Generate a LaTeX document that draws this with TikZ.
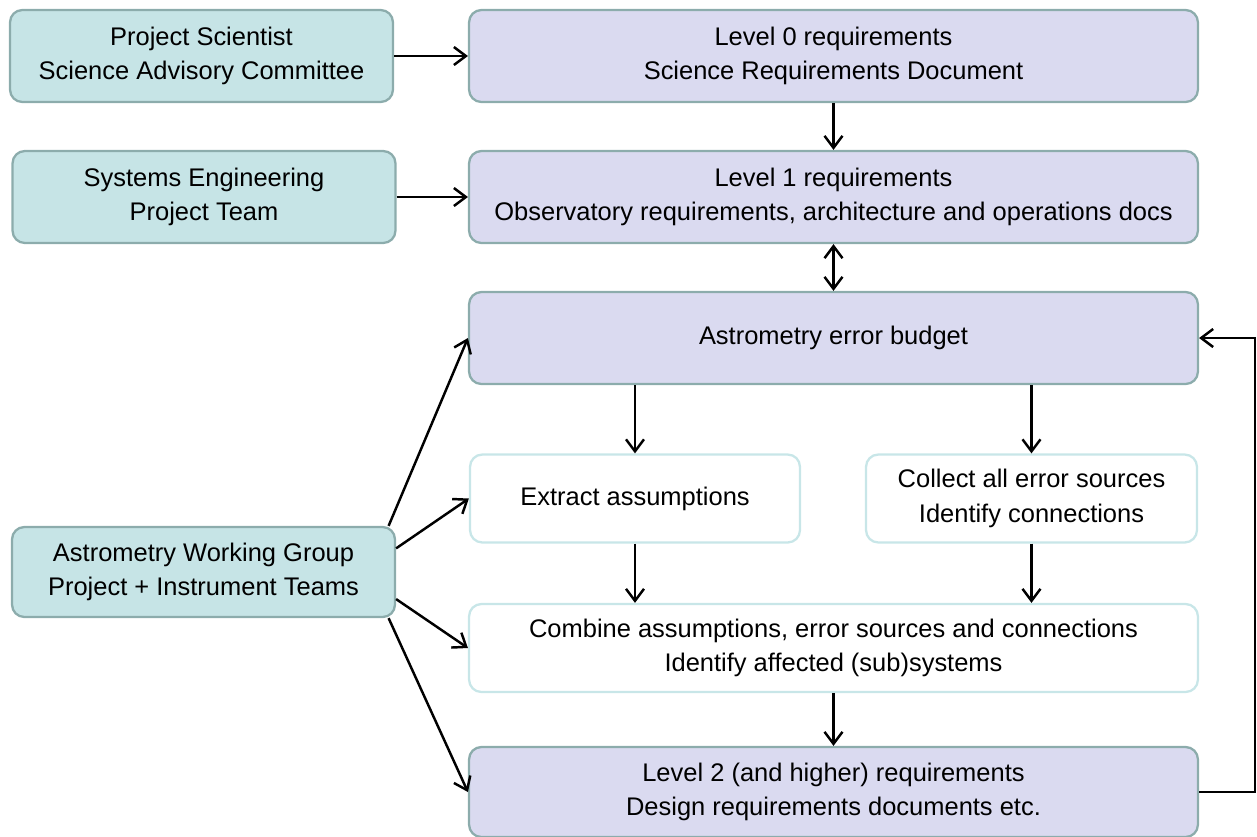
\documentclass[tikz,border=0pt]{standalone}
\usepackage{fontspec}
\setmainfont{Liberation Sans}
\usepackage{xcolor}
\usetikzlibrary{arrows.meta}
\definecolor{tealfill}{RGB}{198,228,230}
\definecolor{tealline}{RGB}{140,172,172}
\definecolor{lilacfill}{RGB}{218,218,240}
\definecolor{paleline}{RGB}{200,230,232}

\begin{document}
\begin{tikzpicture}[x=0.02cm,y=-0.02cm,
  >={Straight Barb[length=2.4mm,width=3.6mm]},
  every node/.style={align=center,font=\fontsize{14.5}{19.8}\selectfont,rounded corners=7pt,line width=1.3pt,inner sep=0pt},
  source/.style={draw=tealline,fill=tealfill,minimum width=7.66cm,minimum height=1.84cm},
  level/.style={draw=tealline,fill=lilacfill,minimum width=14.58cm,minimum height=1.84cm},
  work/.style={draw=paleline,fill=white,minimum height=1.76cm},
  link/.style={->,line width=1.4pt}]
\useasboundingbox (0,0) rectangle (1257,836);

\node[source] (ps) at (201.5,56) {Project Scientist\\Science Advisory Committee};
\node[source] (se) at (204,197) {Systems Engineering\\Project Team};
\node[source,minimum height=1.8cm] (awg) at (203.5,572) {Astrometry Working Group\\Project + Instrument Teams};

\node[level] (l0) at (833.5,56) {Level 0 requirements\\Science Requirements Document};
\node[level] (l1) at (833.5,197) {Level 1 requirements\\Observatory requirements, architecture and operations docs};
\node[level] (aeb) at (833.5,338) {Astrometry error budget};
\node[work,minimum width=6.6cm] (ext) at (635,498.5) {Extract assumptions};
\node[work,minimum width=6.62cm] (col) at (1031.5,498.5) {Collect all error sources\\Identify connections};
\node[work,minimum width=14.58cm] (comb) at (833.5,648) {Combine assumptions, error sources and connections\\Identify affected (sub)systems};
\node[level,minimum height=1.8cm] (l2) at (833.5,792) {Level 2 (and higher) requirements\\Design requirements documents etc.};

\draw[link] (ps) -- (l0);
\draw[link] (se) -- (l1);
\draw[link] (l0) -- (l1);
\draw[link,<->] (l1) -- (aeb);
\draw[link] (aeb.south -| ext.north) -- (ext.north);
\draw[link] (aeb.south -| col.north) -- (col.north);
\draw[link] (ext.south) -- (ext.south |- comb.north);
\draw[link] (col.south) -- (col.south |- comb.north);
\draw[link] (comb) -- (l2);
\draw[link] (awg.14.5) -- (aeb.west);
\draw[link] (awg.7) -- (ext.west);
\draw[link] (awg.-8) -- (comb.west);
\draw[link] (awg.-14.5) -- (l2.west);
\draw[link] (l2.east) -- ++(56,0) |- (aeb.east);
\end{tikzpicture}
\end{document}
